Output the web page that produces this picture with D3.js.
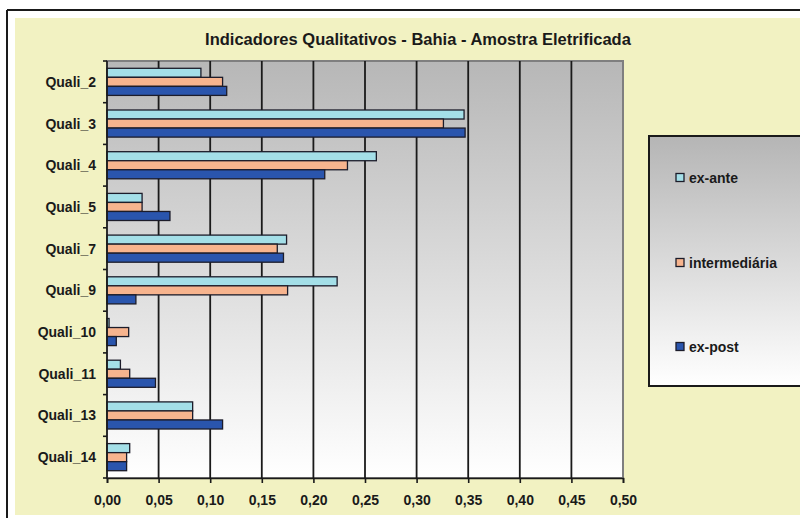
<!DOCTYPE html>
<html>
<head>
<meta charset="utf-8">
<script src="https://cdn.jsdelivr.net/npm/d3@7"></script>
<style>
  html, body { margin: 0; padding: 0; background: #ffffff; }
  svg { display: block; }
  text { font-family: "Liberation Sans Narrow", "Arial Narrow", "Liberation Sans", Arial, sans-serif; font-weight: bold; fill: #1a1a1a; }
</style>
</head>
<body>
<svg id="chart" width="800" height="518"></svg>
<script>
// Categories (top to bottom) and the three survey rounds
const categories = ["Quali_2", "Quali_3", "Quali_4", "Quali_5", "Quali_7", "Quali_9", "Quali_10", "Quali_11", "Quali_13", "Quali_14"];
const seriesNames = ["ex-ante", "intermediária", "ex-post"];
const exAnte        = [0.091, 0.346, 0.261, 0.034, 0.174, 0.223, 0.002, 0.013, 0.083, 0.022];
const intermediaria = [0.112, 0.326, 0.233, 0.034, 0.165, 0.175, 0.021, 0.022, 0.083, 0.019];
const exPost        = [0.116, 0.347, 0.211, 0.061, 0.171, 0.028, 0.009, 0.047, 0.112, 0.019];
const xTicks = [0, 0.05, 0.10, 0.15, 0.20, 0.25, 0.30, 0.35, 0.40, 0.45, 0.50];
const titleText = "Indicadores Qualitativos - Bahia - Amostra Eletrificada";

const seriesValues = [exAnte, intermediaria, exPost];
const colors = ["#a4dfe8", "#f7b48e", "#2a55ad"];

const svg = d3.select("#chart");
const defs = svg.append("defs");

function vGradient(id, top, bottom) {
  const g = defs.append("linearGradient").attr("id", id)
    .attr("x1", 0).attr("y1", 0).attr("x2", 0).attr("y2", 1);
  g.append("stop").attr("offset", "0%").attr("stop-color", top);
  g.append("stop").attr("offset", "100%").attr("stop-color", bottom);
}
vGradient("plotBg", "#b7b7b7", "#ffffff");
vGradient("legendBg", "#b5b5b5", "#ffffff");

// Outer frame and chart area
svg.append("line").attr("x1", 7).attr("x2", 800).attr("y1", 10).attr("y2", 10)
  .attr("stroke", "#1a1a1a").attr("stroke-width", 2);
svg.append("line").attr("x1", 7).attr("x2", 7).attr("y1", 10).attr("y2", 518)
  .attr("stroke", "#1a1a1a").attr("stroke-width", 2);
svg.append("rect").attr("x", 15).attr("y", 18).attr("width", 785).attr("height", 497)
  .attr("fill", "#f2f2c2");

// Plot area
const plot = { left: 107, top: 61, right: 623, bottom: 478 };

const x = d3.scaleLinear().domain([0, 0.5]).range([plot.left, plot.right]);
const y = d3.scaleBand().domain(categories).range([plot.top, plot.bottom]).padding(0);
const inner = d3.scaleBand().domain(seriesNames)
  .range([y.bandwidth() * 0.175, y.bandwidth() * 0.825]).padding(0);

svg.append("rect")
  .attr("x", plot.left).attr("y", plot.top)
  .attr("width", plot.right - plot.left).attr("height", plot.bottom - plot.top)
  .attr("fill", "url(#plotBg)").attr("stroke", "#7f7f7f").attr("stroke-width", 2);

// Vertical gridlines
svg.append("g").selectAll("line")
  .data(xTicks.filter(t => t > 0 && t < 0.5))
  .join("line")
  .attr("x1", d => x(d)).attr("x2", d => x(d))
  .attr("y1", plot.top).attr("y2", plot.bottom)
  .attr("stroke", "#1a1a1a").attr("stroke-width", 1.8);

// Bars
const groups = svg.append("g").selectAll("g")
  .data(categories)
  .join("g")
  .attr("transform", d => `translate(0,${y(d)})`);

groups.selectAll("rect")
  .data((c, i) => seriesNames.map((s, k) => ({ s, k, v: seriesValues[k][i] })))
  .join("rect")
  .attr("x", x(0))
  .attr("y", d => inner(d.s))
  .attr("width", d => x(d.v) - x(0))
  .attr("height", inner.bandwidth())
  .attr("fill", d => colors[d.k])
  .attr("stroke", "#1c1c2a").attr("stroke-width", 1.3);

// Y axis (category boundaries as ticks)
const yAxisG = svg.append("g");
yAxisG.append("line").attr("x1", plot.left).attr("x2", plot.left)
  .attr("y1", plot.top).attr("y2", plot.bottom)
  .attr("stroke", "#1a1a1a").attr("stroke-width", 1.6);
const boundaries = categories.map(c => y(c)).concat([plot.bottom]);
yAxisG.selectAll("line.tick").data(boundaries).join("line").attr("class", "tick")
  .attr("x1", plot.left - 4).attr("x2", plot.left)
  .attr("y1", d => d).attr("y2", d => d)
  .attr("stroke", "#1a1a1a").attr("stroke-width", 1.6);
yAxisG.selectAll("text").data(categories).join("text")
  .attr("x", plot.left - 11)
  .attr("y", d => y(d) + y.bandwidth() / 2)
  .attr("text-anchor", "end").attr("dominant-baseline", "central")
  .style("font-size", "14px")
  .text(d => d);

// X axis
const xAxis = d3.axisBottom(x).tickValues(xTicks).tickSize(5)
  .tickFormat(d => d3.format(".2f")(d).replace(".", ","));
const xAxisG = svg.append("g").attr("transform", `translate(0,${plot.bottom})`).call(xAxis);
xAxisG.select(".domain").attr("stroke", "#1a1a1a").attr("stroke-width", 1.6);
xAxisG.selectAll(".tick line").attr("stroke", "#1a1a1a").attr("stroke-width", 1.6);
xAxisG.selectAll(".tick text")
  .attr("dy", 0).attr("y", 27)
  .style("font-size", "14px").style("font-family", null).attr("fill", "#1a1a1a");

// Title
svg.append("text")
  .attr("x", 418).attr("y", 45)
  .attr("text-anchor", "middle")
  .style("font-size", "16.5px")
  .text(titleText);

// Legend
const legend = svg.append("g");
legend.append("rect")
  .attr("x", 649).attr("y", 136).attr("width", 160).attr("height", 250)
  .attr("fill", "url(#legendBg)").attr("stroke", "#1a1a1a").attr("stroke-width", 2);
const legendY = [178, 263, 347];
seriesNames.forEach((s, k) => {
  legend.append("rect")
    .attr("x", 676).attr("y", legendY[k] - 4.5).attr("width", 8).attr("height", 8)
    .attr("fill", colors[k]).attr("stroke", "#1c1c2a").attr("stroke-width", 1.3);
  legend.append("text")
    .attr("x", 689).attr("y", legendY[k])
    .attr("dominant-baseline", "central")
    .style("font-size", "14px")
    .text(s);
});
</script>
</body>
</html>
